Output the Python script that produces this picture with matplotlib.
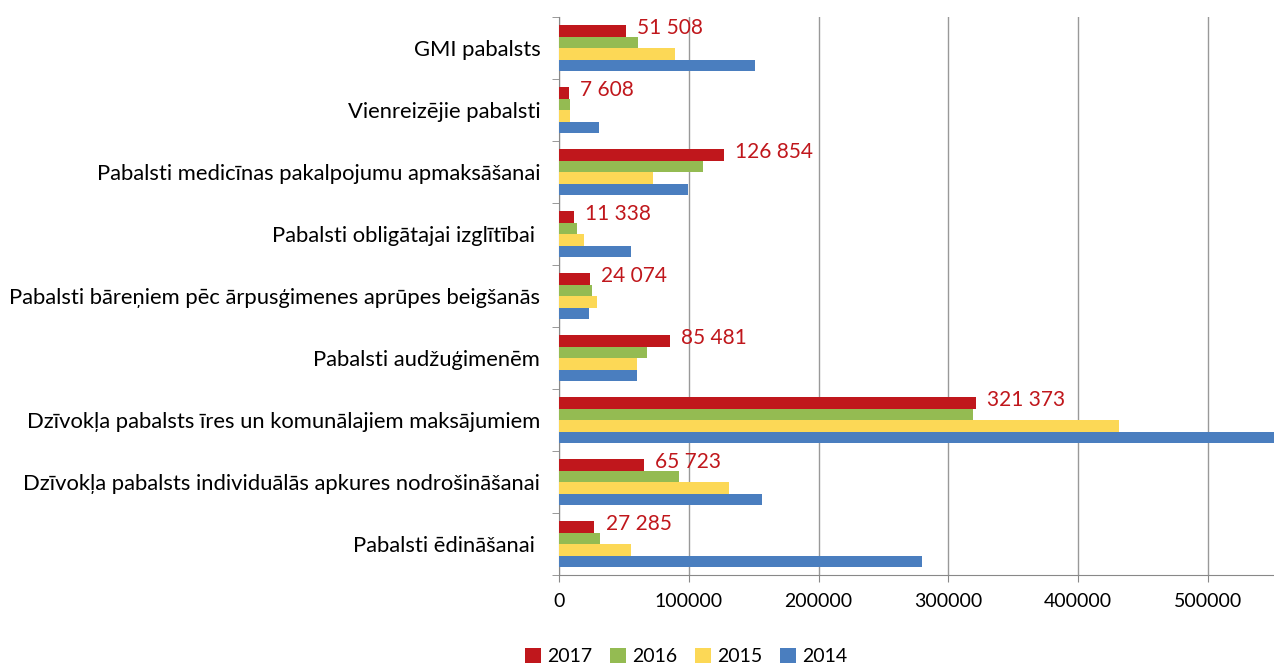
import numpy as np
import matplotlib.pyplot as plt

categories = [
    "GMI pabalsts",
    "Vienreizējie pabalsti",
    "Pabalsti medicīnas pakalpojumu apmaksāšanai",
    "Pabalsti obligātajai izglītībai ",
    "Pabalsti bāreņiem pēc ārpusģimenes aprūpes beigšanās",
    "Pabalsti audžuģimenēm",
    "Dzīvokļa pabalsts īres un komunālajiem maksājumiem",
    "Dzīvokļa pabalsts individuālās apkures nodrošināšanai",
    "Pabalsti ēdināšanai ",
]
years = ["2017", "2016", "2015", "2014"]
v2017 = [51508, 7608, 126854, 11338, 24074, 85481, 321373, 65723, 27285]
v2016 = [60700, 8300, 110800, 13700, 25600, 67900, 318700, 92800, 31800]
v2015 = [89100, 8300, 72600, 19100, 29600, 59900, 431700, 130700, 55200]
v2014 = [150900, 31000, 99600, 55200, 23100, 59900, 575000, 156300, 280100]
colors = ["#c0171c", "#94bb52", "#fcd856", "#4a7ebf"]

series = [v2017, v2016, v2015, v2014]

fig = plt.figure(figsize=(12.74, 6.64), dpi=100)
ax = fig.add_axes([0.4388, 0.134, 0.5612, 0.84])

y = np.arange(len(categories))
h = 0.185
for i, (vals, col, yr) in enumerate(zip(series, colors, years)):
    ax.barh(y + (i - 1.5) * h, vals, height=h, color=col, label=yr, zorder=3)

# only 2017 gets value labels
for yi, v in zip(y, v2017):
    txt = f"{v:,}".replace(",", " ")
    ax.annotate(txt, (v, yi - 1.5 * h), xytext=(8, 2), textcoords="offset points",
                va="center", ha="left", color="#c0171c", fontsize=15, family="Lato")

ax.set_xlim(0, 551000)
ax.set_ylim(len(categories) - 0.5, -0.5)
ax.set_xticks(range(0, 600000, 100000))
ax.set_xticklabels([str(t) for t in range(0, 600000, 100000)], fontsize=14, family="Lato")
ax.set_yticks(y)
ax.set_yticklabels(categories, fontsize=15.8, family="Lato")
ax.set_yticks(np.arange(-0.5, len(categories)), minor=True)
ax.tick_params(axis="y", which="major", length=0, pad=13.5)
ax.tick_params(axis="y", which="minor", length=5, color="#888888")
ax.tick_params(axis="x", length=5, color="#888888", pad=8)
ax.grid(axis="x", color="#999999", linewidth=1, zorder=0)
for s in ["top", "right"]:
    ax.spines[s].set_visible(False)
for s in ["left", "bottom"]:
    ax.spines[s].set_color("#888888")

ax.legend(loc="upper center", bbox_to_anchor=(0.178, -0.1), ncol=4, frameon=False,
          prop={"family": "Lato", "size": 14}, handlelength=0.8, handleheight=0.8,
          columnspacing=0.9, handletextpad=0.35)

fig.savefig("out.png", dpi=100)
